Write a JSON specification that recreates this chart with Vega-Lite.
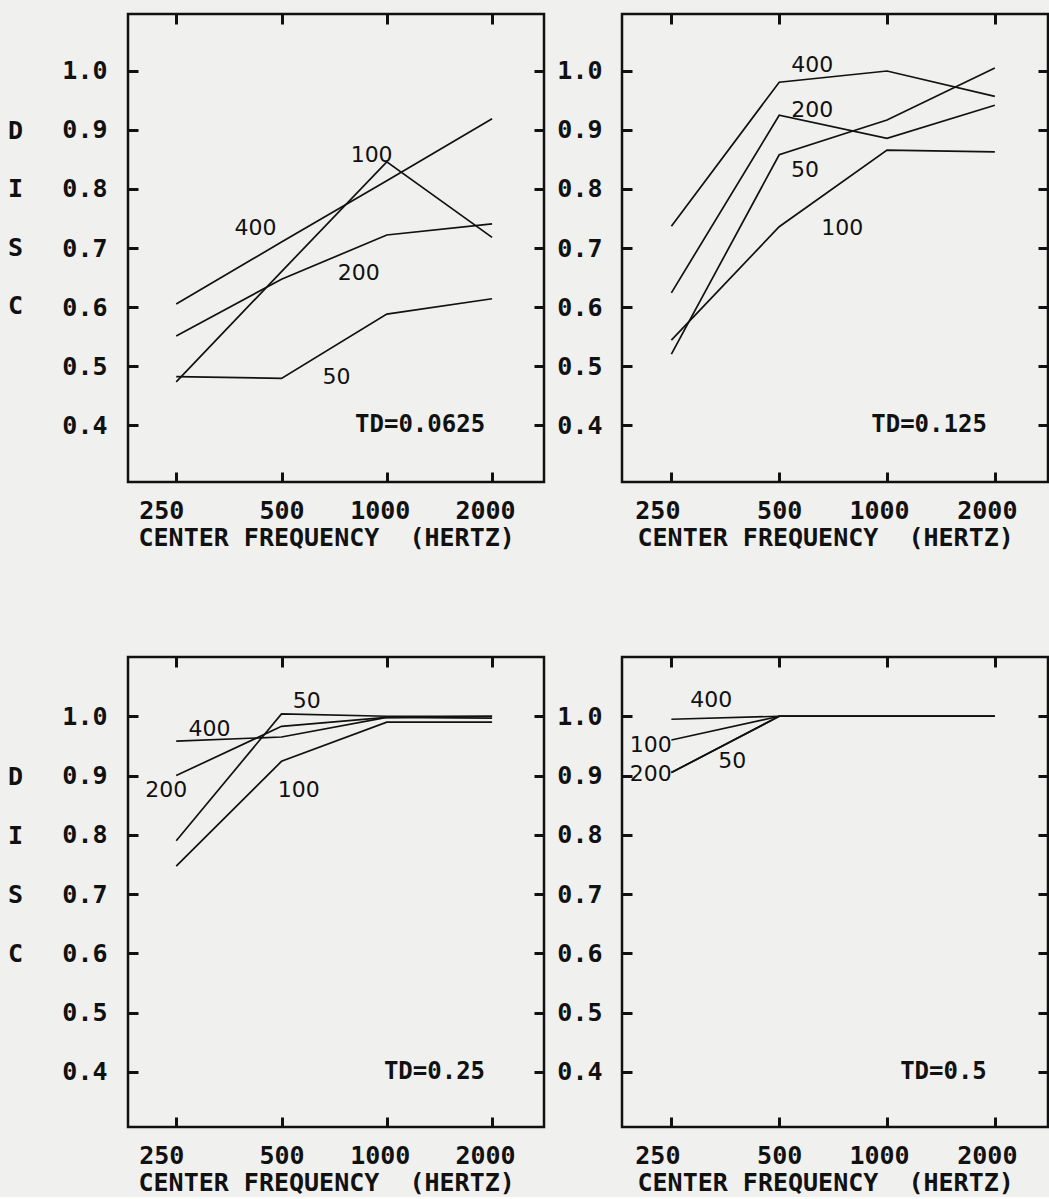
{
  "$schema": "https://vega.github.io/schema/vega-lite/v6.json",
  "background": "#f0f0ee",
  "padding": {"left": 6, "top": 11, "right": 0, "bottom": 0},
  "datasets": {
    "curves": [
      {"td": "0.0625", "n": "400", "f": 250, "v": 0.605},
      {"td": "0.0625", "n": "400", "f": 500, "v": 0.71},
      {"td": "0.0625", "n": "400", "f": 1000, "v": 0.814},
      {"td": "0.0625", "n": "400", "f": 2000, "v": 0.919},
      {"td": "0.0625", "n": "200", "f": 250, "v": 0.551},
      {"td": "0.0625", "n": "200", "f": 500, "v": 0.647},
      {"td": "0.0625", "n": "200", "f": 1000, "v": 0.722},
      {"td": "0.0625", "n": "200", "f": 2000, "v": 0.741},
      {"td": "0.0625", "n": "100", "f": 250, "v": 0.473},
      {"td": "0.0625", "n": "100", "f": 500, "v": 0.66},
      {"td": "0.0625", "n": "100", "f": 1000, "v": 0.846},
      {"td": "0.0625", "n": "100", "f": 2000, "v": 0.718},
      {"td": "0.0625", "n": "50", "f": 250, "v": 0.482},
      {"td": "0.0625", "n": "50", "f": 500, "v": 0.479},
      {"td": "0.0625", "n": "50", "f": 1000, "v": 0.588},
      {"td": "0.0625", "n": "50", "f": 2000, "v": 0.614},

      {"td": "0.125", "n": "400", "f": 250, "v": 0.737},
      {"td": "0.125", "n": "400", "f": 500, "v": 0.981},
      {"td": "0.125", "n": "400", "f": 1000, "v": 1.0},
      {"td": "0.125", "n": "400", "f": 2000, "v": 0.957},
      {"td": "0.125", "n": "200", "f": 250, "v": 0.624},
      {"td": "0.125", "n": "200", "f": 500, "v": 0.925},
      {"td": "0.125", "n": "200", "f": 1000, "v": 0.886},
      {"td": "0.125", "n": "200", "f": 2000, "v": 0.942},
      {"td": "0.125", "n": "100", "f": 250, "v": 0.544},
      {"td": "0.125", "n": "100", "f": 500, "v": 0.736},
      {"td": "0.125", "n": "100", "f": 1000, "v": 0.866},
      {"td": "0.125", "n": "100", "f": 2000, "v": 0.863},
      {"td": "0.125", "n": "50", "f": 250, "v": 0.52},
      {"td": "0.125", "n": "50", "f": 500, "v": 0.858},
      {"td": "0.125", "n": "50", "f": 1000, "v": 0.917},
      {"td": "0.125", "n": "50", "f": 2000, "v": 1.005},

      {"td": "0.25", "n": "400", "f": 250, "v": 0.958},
      {"td": "0.25", "n": "400", "f": 500, "v": 0.965},
      {"td": "0.25", "n": "400", "f": 1000, "v": 0.998},
      {"td": "0.25", "n": "400", "f": 2000, "v": 0.997},
      {"td": "0.25", "n": "200", "f": 250, "v": 0.9},
      {"td": "0.25", "n": "200", "f": 500, "v": 0.983},
      {"td": "0.25", "n": "200", "f": 1000, "v": 0.998},
      {"td": "0.25", "n": "200", "f": 2000, "v": 1.0},
      {"td": "0.25", "n": "100", "f": 250, "v": 0.747},
      {"td": "0.25", "n": "100", "f": 500, "v": 0.924},
      {"td": "0.25", "n": "100", "f": 1000, "v": 0.99},
      {"td": "0.25", "n": "100", "f": 2000, "v": 0.99},
      {"td": "0.25", "n": "50", "f": 250, "v": 0.79},
      {"td": "0.25", "n": "50", "f": 500, "v": 1.004},
      {"td": "0.25", "n": "50", "f": 1000, "v": 1.0},
      {"td": "0.25", "n": "50", "f": 2000, "v": 1.0},

      {"td": "0.5", "n": "400", "f": 250, "v": 0.995},
      {"td": "0.5", "n": "400", "f": 500, "v": 1.0},
      {"td": "0.5", "n": "400", "f": 1000, "v": 1.0},
      {"td": "0.5", "n": "400", "f": 2000, "v": 1.0},
      {"td": "0.5", "n": "200", "f": 250, "v": 0.905},
      {"td": "0.5", "n": "200", "f": 500, "v": 1.0},
      {"td": "0.5", "n": "200", "f": 1000, "v": 1.0},
      {"td": "0.5", "n": "200", "f": 2000, "v": 1.0},
      {"td": "0.5", "n": "100", "f": 250, "v": 0.96},
      {"td": "0.5", "n": "100", "f": 500, "v": 1.0},
      {"td": "0.5", "n": "100", "f": 1000, "v": 1.0},
      {"td": "0.5", "n": "100", "f": 2000, "v": 1.0},
      {"td": "0.5", "n": "50", "f": 250, "v": 0.905},
      {"td": "0.5", "n": "50", "f": 500, "v": 1.0},
      {"td": "0.5", "n": "50", "f": 1000, "v": 1.0},
      {"td": "0.5", "n": "50", "f": 2000, "v": 1.0}
    ],
    "tags": [
      {"td": "0.0625", "n": "400", "f": 421, "v": 0.734},
      {"td": "0.0625", "n": "100", "f": 905, "v": 0.858},
      {"td": "0.0625", "n": "200", "f": 832, "v": 0.658},
      {"td": "0.0625", "n": "50", "f": 718, "v": 0.481},
      {"td": "0.125", "n": "400", "f": 618, "v": 1.01},
      {"td": "0.125", "n": "200", "f": 618, "v": 0.934},
      {"td": "0.125", "n": "50", "f": 590, "v": 0.832},
      {"td": "0.125", "n": "100", "f": 750, "v": 0.734},
      {"td": "0.25", "n": "50", "f": 590, "v": 1.025},
      {"td": "0.25", "n": "400", "f": 311, "v": 0.978},
      {"td": "0.25", "n": "200", "f": 234, "v": 0.875},
      {"td": "0.25", "n": "100", "f": 560, "v": 0.875},
      {"td": "0.5", "n": "400", "f": 323, "v": 1.027},
      {"td": "0.5", "n": "100", "f": 219, "v": 0.951},
      {"td": "0.5", "n": "200", "f": 219, "v": 0.902},
      {"td": "0.5", "n": "50", "f": 370, "v": 0.924}
    ],
    "panels": [
      {"td": "0.0625", "label": "TD=0.0625", "f": 2000, "v": 0.4},
      {"td": "0.125", "label": "TD=0.125", "f": 2000, "v": 0.4},
      {"td": "0.25", "label": "TD=0.25", "f": 2000, "v": 0.4},
      {"td": "0.5", "label": "TD=0.5", "f": 2000, "v": 0.4}
    ]
  },
  "vconcat": [
    {
      "spacing": 8,
      "hconcat": [
        {
          "width": 416, "height": 468,
          "resolve": {"axis": {"x": "independent", "y": "independent"}},
          "layer": [
            {
              "data": {"name": "curves"},
              "transform": [{"filter": "datum.td === '0.0625'"}],
              "mark": {"type": "line", "color": "#111", "strokeWidth": 1.7},
              "encoding": {
                "x": {"field": "f", "type": "quantitative", "scale": {"type": "log", "domain": [182, 2815]},
                      "axis": {"orient": "bottom", "values": [250, 500, 1000, 2000], "format": "d", "labelPadding": 26,
                               "labelOffset": {"condition": [{"test": "datum.value == 250", "value": -15}, {"test": "datum.value == 500", "value": 0}], "value": -7},
                               "title": "CENTER FREQUENCY\u00a0\u00a0(HERTZ)", "titleAnchor": "start", "titleAlign": "left", "titleX": 10, "titleY": 63, "titleBaseline": "alphabetic"}},
                "y": {"field": "v", "type": "quantitative", "scale": {"domain": [0.3034, 1.0966]},
                      "axis": {"orient": "left", "values": [0.4, 0.5, 0.6, 0.7, 0.8, 0.9, 1.0], "format": ".1f", "labelPadding": 31,
                               "title": ["D", "I", "S", "C"], "titleAngle": 0, "titleAlign": "center", "titleBaseline": "middle", "titleX": -113, "titleY": 116, "titleLineHeight": 58.5}},
                "detail": {"field": "n", "type": "nominal"}
              }
            },
            {
              "data": {"name": "tags"},
              "transform": [{"filter": "datum.td === '0.0625'"}],
              "mark": {"type": "text", "font": "DejaVu Sans", "fontSize": 22, "color": "#111", "baseline": "middle"},
              "encoding": {
                "x": {"field": "f", "type": "quantitative", "scale": {"type": "log", "domain": [182, 2815]},
                      "axis": {"orient": "top", "values": [250, 500, 1000, 2000], "labels": false, "title": null}},
                "y": {"field": "v", "type": "quantitative", "scale": {"domain": [0.3034, 1.0966]},
                      "axis": {"orient": "right", "values": [0.4, 0.5, 0.6, 0.7, 0.8, 0.9, 1.0], "labels": false, "title": null}},
                "text": {"field": "n"}
              }
            },
            {
              "data": {"name": "panels"},
              "transform": [{"filter": "datum.td === '0.0625'"}],
              "mark": {"type": "text", "align": "right", "baseline": "middle", "dx": -7, "font": "DejaVu Sans Mono", "fontWeight": "bold", "fontSize": 24, "color": "#111"},
              "encoding": {
                "x": {"field": "f", "type": "quantitative", "scale": {"type": "log", "domain": [182, 2815]}, "axis": null},
                "y": {"field": "v", "type": "quantitative", "scale": {"domain": [0.3034, 1.0966]}, "axis": null},
                "text": {"field": "label"}
              }
            }
          ]
        },
        {
          "width": 426, "height": 468,
          "resolve": {"axis": {"x": "independent", "y": "independent"}},
          "layer": [
            {
              "data": {"name": "curves"},
              "transform": [{"filter": "datum.td === '0.125'"}],
              "mark": {"type": "line", "color": "#111", "strokeWidth": 1.7},
              "encoding": {
                "x": {"field": "f", "type": "quantitative", "scale": {"type": "log", "domain": [182, 2815]},
                      "axis": {"orient": "bottom", "values": [250, 500, 1000, 2000], "format": "d", "labelPadding": 26,
                               "labelOffset": {"condition": [{"test": "datum.value == 250", "value": -14}, {"test": "datum.value == 500", "value": 0}], "value": -8},
                               "title": "CENTER FREQUENCY\u00a0\u00a0(HERTZ)", "titleAnchor": "start", "titleAlign": "left", "titleX": 15, "titleY": 63, "titleBaseline": "alphabetic"}},
                "y": {"field": "v", "type": "quantitative", "scale": {"domain": [0.3034, 1.0966]},
                      "axis": {"orient": "left", "values": [0.4, 0.5, 0.6, 0.7, 0.8, 0.9, 1.0], "format": ".1f", "labelPadding": 30, "title": null}},
                "detail": {"field": "n", "type": "nominal"}
              }
            },
            {
              "data": {"name": "tags"},
              "transform": [{"filter": "datum.td === '0.125'"}],
              "mark": {"type": "text", "font": "DejaVu Sans", "fontSize": 22, "color": "#111", "baseline": "middle"},
              "encoding": {
                "x": {"field": "f", "type": "quantitative", "scale": {"type": "log", "domain": [182, 2815]},
                      "axis": {"orient": "top", "values": [250, 500, 1000, 2000], "labels": false, "title": null}},
                "y": {"field": "v", "type": "quantitative", "scale": {"domain": [0.3034, 1.0966]},
                      "axis": {"orient": "right", "values": [0.4, 0.5, 0.6, 0.7, 0.8, 0.9, 1.0], "labels": false, "title": null}},
                "text": {"field": "n"}
              }
            },
            {
              "data": {"name": "panels"},
              "transform": [{"filter": "datum.td === '0.125'"}],
              "mark": {"type": "text", "align": "right", "baseline": "middle", "dx": -8, "font": "DejaVu Sans Mono", "fontWeight": "bold", "fontSize": 24, "color": "#111"},
              "encoding": {
                "x": {"field": "f", "type": "quantitative", "scale": {"type": "log", "domain": [182, 2815]}, "axis": null},
                "y": {"field": "v", "type": "quantitative", "scale": {"domain": [0.3034, 1.0966]}, "axis": null},
                "text": {"field": "label"}
              }
            }
          ]
        }
      ]
    },
    {
      "spacing": 8,
      "hconcat": [
        {
          "width": 416, "height": 470,
          "resolve": {"axis": {"x": "independent", "y": "independent"}},
          "layer": [
            {
              "data": {"name": "curves"},
              "transform": [{"filter": "datum.td === '0.25'"}],
              "mark": {"type": "line", "color": "#111", "strokeWidth": 1.7},
              "encoding": {
                "x": {"field": "f", "type": "quantitative", "scale": {"type": "log", "domain": [182, 2815]},
                      "axis": {"orient": "bottom", "values": [250, 500, 1000, 2000], "format": "d", "labelPadding": 26,
                               "labelOffset": {"condition": [{"test": "datum.value == 250", "value": -15}, {"test": "datum.value == 500", "value": 0}], "value": -7},
                               "title": "CENTER FREQUENCY\u00a0\u00a0(HERTZ)", "titleAnchor": "start", "titleAlign": "left", "titleX": 10, "titleY": 63, "titleBaseline": "alphabetic"}},
                "y": {"field": "v", "type": "quantitative", "scale": {"domain": [0.307, 1.1]},
                      "axis": {"orient": "left", "values": [0.4, 0.5, 0.6, 0.7, 0.8, 0.9, 1.0], "format": ".1f", "labelPadding": 31,
                               "title": ["D", "I", "S", "C"], "titleAngle": 0, "titleAlign": "center", "titleBaseline": "middle", "titleX": -113, "titleY": 119, "titleLineHeight": 59}},
                "detail": {"field": "n", "type": "nominal"}
              }
            },
            {
              "data": {"name": "tags"},
              "transform": [{"filter": "datum.td === '0.25'"}],
              "mark": {"type": "text", "font": "DejaVu Sans", "fontSize": 22, "color": "#111", "baseline": "middle"},
              "encoding": {
                "x": {"field": "f", "type": "quantitative", "scale": {"type": "log", "domain": [182, 2815]},
                      "axis": {"orient": "top", "values": [250, 500, 1000, 2000], "labels": false, "title": null}},
                "y": {"field": "v", "type": "quantitative", "scale": {"domain": [0.307, 1.1]},
                      "axis": {"orient": "right", "values": [0.4, 0.5, 0.6, 0.7, 0.8, 0.9, 1.0], "labels": false, "title": null}},
                "text": {"field": "n"}
              }
            },
            {
              "data": {"name": "panels"},
              "transform": [{"filter": "datum.td === '0.25'"}],
              "mark": {"type": "text", "align": "right", "baseline": "middle", "dx": -7, "font": "DejaVu Sans Mono", "fontWeight": "bold", "fontSize": 24, "color": "#111"},
              "encoding": {
                "x": {"field": "f", "type": "quantitative", "scale": {"type": "log", "domain": [182, 2815]}, "axis": null},
                "y": {"field": "v", "type": "quantitative", "scale": {"domain": [0.307, 1.1]}, "axis": null},
                "text": {"field": "label"}
              }
            }
          ]
        },
        {
          "width": 426, "height": 470,
          "resolve": {"axis": {"x": "independent", "y": "independent"}},
          "layer": [
            {
              "data": {"name": "curves"},
              "transform": [{"filter": "datum.td === '0.5'"}],
              "mark": {"type": "line", "color": "#111", "strokeWidth": 1.7},
              "encoding": {
                "x": {"field": "f", "type": "quantitative", "scale": {"type": "log", "domain": [182, 2815]},
                      "axis": {"orient": "bottom", "values": [250, 500, 1000, 2000], "format": "d", "labelPadding": 26,
                               "labelOffset": {"condition": [{"test": "datum.value == 250", "value": -14}, {"test": "datum.value == 500", "value": 0}], "value": -8},
                               "title": "CENTER FREQUENCY\u00a0\u00a0(HERTZ)", "titleAnchor": "start", "titleAlign": "left", "titleX": 15, "titleY": 63, "titleBaseline": "alphabetic"}},
                "y": {"field": "v", "type": "quantitative", "scale": {"domain": [0.307, 1.1]},
                      "axis": {"orient": "left", "values": [0.4, 0.5, 0.6, 0.7, 0.8, 0.9, 1.0], "format": ".1f", "labelPadding": 30, "title": null}},
                "detail": {"field": "n", "type": "nominal"}
              }
            },
            {
              "data": {"name": "tags"},
              "transform": [{"filter": "datum.td === '0.5'"}],
              "mark": {"type": "text", "font": "DejaVu Sans", "fontSize": 22, "color": "#111", "baseline": "middle"},
              "encoding": {
                "x": {"field": "f", "type": "quantitative", "scale": {"type": "log", "domain": [182, 2815]},
                      "axis": {"orient": "top", "values": [250, 500, 1000, 2000], "labels": false, "title": null}},
                "y": {"field": "v", "type": "quantitative", "scale": {"domain": [0.307, 1.1]},
                      "axis": {"orient": "right", "values": [0.4, 0.5, 0.6, 0.7, 0.8, 0.9, 1.0], "labels": false, "title": null}},
                "text": {"field": "n"}
              }
            },
            {
              "data": {"name": "panels"},
              "transform": [{"filter": "datum.td === '0.5'"}],
              "mark": {"type": "text", "align": "right", "baseline": "middle", "dx": -8, "font": "DejaVu Sans Mono", "fontWeight": "bold", "fontSize": 24, "color": "#111"},
              "encoding": {
                "x": {"field": "f", "type": "quantitative", "scale": {"type": "log", "domain": [182, 2815]}, "axis": null},
                "y": {"field": "v", "type": "quantitative", "scale": {"domain": [0.307, 1.1]}, "axis": null},
                "text": {"field": "label"}
              }
            }
          ]
        }
      ]
    }
  ],
  "spacing": 102,
  "config": {
    "view": {"stroke": "#111", "strokeWidth": 2.5},
    "axis": {
      "domain": false,
      "grid": false,
      "ticks": true,
      "tickSize": -10,
      "tickWidth": 3,
      "tickColor": "#111",
      "labelFont": "DejaVu Sans Mono",
      "labelFontWeight": "bold",
      "labelFontSize": 25,
      "labelColor": "#111",
      "labelOverlap": false,
      "titleFont": "DejaVu Sans Mono",
      "titleFontWeight": "bold",
      "titleFontSize": 25,
      "titleColor": "#111"
    }
  }
}
